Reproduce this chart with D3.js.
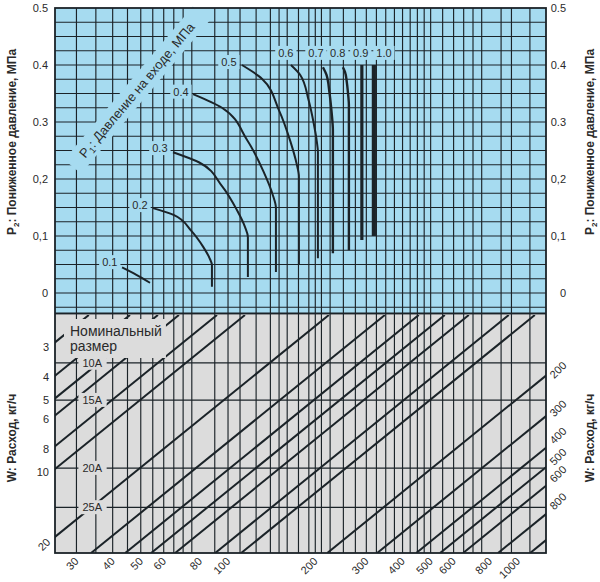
<!DOCTYPE html>
<html>
<head>
<meta charset="utf-8">
<script src="https://cdn.jsdelivr.net/npm/d3@7"></script>
<style>
  body { margin: 0; background: #fff; }
  svg text { font-family: "Liberation Sans", Arial, sans-serif; fill: #2a2a2a; }
</style>
</head>
<body>
<div id="chart"></div>
<script>
// upper panel: outlet pressure P2, MPa
var p2Ticks = [0, 0.1, 0.2, 0.3, 0.4, 0.5];
var p2TickText = ["0", "0,1", "0,2", "0.3", "0.4", "0.5"];
var p2Grid = [-0.025, 0, 0.025, 0.05, 0.075, 0.1, 0.125, 0.15, 0.175, 0.2, 0.225,
              0.25, 0.275, 0.3, 0.325, 0.35, 0.375, 0.4, 0.425, 0.45, 0.475];

// common horizontal (log) axis
var flowGrid = [30, 35, 40, 45, 50, 55, 60, 65, 70, 75, 90, 100, 110, 125, 140, 150, 160,
                175, 190, 200, 210, 225, 250, 275, 300, 325, 350, 375, 400, 425, 450, 475,
                500, 550, 600, 650, 700, 750, 875, 950, 1100];
var flowTicks = [30, 40, 50, 60, 80, 100, 200, 300, 400, 500, 600, 800, 1000];

// inlet pressure curves P1: [flow, P2]
var p1Names = ["0.1", "0.2", "0.3", "0.4", "0.5", "0.6", "0.7", "0.8", "0.9", "1.0"];
var p1Curves = [
  [[43.1, 0.045], [48.3, 0.032], [53.8, 0.018]],
  [[55.1, 0.149], [64.9, 0.137], [74.7, 0.109], [82.1, 0.081], [86.4, 0.061], [88, 0.049], [88, 0.011]],
  [[64.6, 0.247], [79.6, 0.229], [95.2, 0.188], [107.2, 0.146], [114.4, 0.116], [117.1, 0.098], [117.1, 0.028]],
  [[75.7, 0.349], [95.3, 0.325], [116.2, 0.269], [132.6, 0.213], [142.5, 0.173], [146.3, 0.149], [146.3, 0.037]],
  [[111.7, 0.4], [130.9, 0.376], [149.8, 0.321], [164.1, 0.266], [172.4, 0.227], [175.6, 0.204], [175.6, 0.049]],
  [[164.8, 0.4], [177.7, 0.382], [189.5, 0.339], [197.8, 0.296], [202.4, 0.266], [204.2, 0.247], [204.2, 0.061]],
  [[212.5, 0.396], [218.5, 0.383], [223.8, 0.352], [227.3, 0.321], [229.3, 0.299], [230, 0.286], [230, 0.07]],
  [[249, 0.396], [253.2, 0.388], [256.9, 0.37], [259.3, 0.351], [260.7, 0.338], [261.2, 0.33], [261.2, 0.075]],
  [[289.5, 0.4], [289.5, 0.093]],
  [[318.5, 0.4], [318.5, 0.1]]
];
var p1LabelAt = [[39.1, 0.054], [49.7, 0.154], [58.2, 0.254], [68.8, 0.353], [100.7, 0.405],
                 [158.3, 0.421], [201, 0.421], [239, 0.421], [287, 0.421], [345, 0.421]];
var p1Width = [2, 2, 2, 2, 2, 2, 2.4, 2.4, 3.2, 4.2];
var p1TitleAt = [48.5, 0.356];

// lower panel: flow W, kg/h
var wLeftTicks = [3, 4, 5, 6, 8, 10, 20];
var wRightTicks = [200, 300, 400, 500, 600, 800];
var wGrid = [3.5, 5, 9.6, 14];
var sizeNames = ["10A", "15A", "20A", "25A"];
var sizeLabelFlow = 34;
// nominal size lines: flow value where each line meets the top and the bottom of the grey panel
var sizeLineTop = [33.1, 45.9, 57.3, 67.7, 91.6, 114.4, 222.8, 347.6, 455, 559.6, 677, 930,
                   1144, 2264, 3368, 4590, 5553, 6667, 8800, 11347];
var sizeLineBottom = [3.21, 4.46, 5.56, 6.57, 8.89, 11.1, 21.6, 33.7, 44.2, 54.3, 65.7, 90.3,
                      111, 220, 327, 446, 539, 647, 854, 1102];

var svg = d3.select("#chart").append("svg")
  .attr("width", 600)
  .attr("height", 582);

var x = d3.scaleLog().domain([25.3, 1250]).range([55, 546]);
var yP = d3.scaleLinear().domain([-0.035, 0.5]).range([313, 8]);
var yW = d3.scaleLog().domain([2.21, 21.7]).range([315, 553]);
var yWr = d3.scaleLog().domain([112, 1381]).range([315, 553]);

var ink = "#1b2328", blue = "#a6dbf0", grey = "#dcdcdc";
var x0 = x.range()[0], x1 = x.range()[1];

// panels
svg.append("rect")
  .attr("x", x0).attr("y", yP(0.5))
  .attr("width", x1 - x0).attr("height", yP.range()[0] - yP(0.5))
  .attr("fill", blue);
svg.append("rect")
  .attr("x", x0).attr("y", yW.range()[0])
  .attr("width", x1 - x0).attr("height", yW.range()[1] - yW.range()[0])
  .attr("fill", grey);

// vertical grid through both panels
svg.append("g").selectAll("line")
  .data(flowGrid)
  .join("line")
  .attr("x1", d => x(d)).attr("x2", d => x(d))
  .attr("y1", yP(0.5)).attr("y2", yW.range()[1])
  .attr("stroke", ink).attr("stroke-width", 1.15);

svg.append("g").selectAll("line")
  .data(p2Grid)
  .join("line")
  .attr("x1", x0).attr("x2", x1)
  .attr("y1", d => yP(d)).attr("y2", d => yP(d))
  .attr("stroke", ink).attr("stroke-width", 1.15);

svg.append("g").selectAll("line")
  .data(wGrid)
  .join("line")
  .attr("x1", x0).attr("x2", x1)
  .attr("y1", d => yW(d)).attr("y2", d => yW(d))
  .attr("stroke", ink).attr("stroke-width", 1.3);

// nominal size lines, clipped to grey panel
svg.append("clipPath").attr("id", "greyClip")
  .append("rect")
  .attr("x", x0).attr("y", yW.range()[0])
  .attr("width", x1 - x0).attr("height", yW.range()[1] - yW.range()[0]);

var wTop = yW.domain()[0], wBottom = yW.domain()[1];
svg.append("g").attr("clip-path", "url(#greyClip)")
  .selectAll("line")
  .data(sizeLineTop)
  .join("line")
  .attr("x1", d => x(d)).attr("y1", yW(wTop))
  .attr("x2", (d, i) => x(sizeLineBottom[i])).attr("y2", yW(wBottom))
  .attr("stroke", ink).attr("stroke-width", 2);

// helper: text with a background patch that hides the grid
function patchText(g, fill, pad) {
  var b = g.select("text").node().getBBox();
  g.insert("rect", "text")
    .attr("x", b.x - pad).attr("y", b.y - 1)
    .attr("width", b.width + 2 * pad).attr("height", b.height + 2)
    .attr("fill", fill);
}

// P1 title band
var tp = [x(p1TitleAt[0]), yP(p1TitleAt[1])];
var band = svg.append("g").attr("transform", `translate(${tp[0]},${tp[1]}) rotate(-50)`);
band.append("rect")
  .attr("x", -100).attr("y", -11).attr("width", 200).attr("height", 22)
  .attr("fill", blue);
var p1t = band.append("text")
  .attr("text-anchor", "middle")
  .attr("dy", "0.35em")
  .style("font-size", "13px");
p1t.append("tspan").text("P");
p1t.append("tspan").text("1").style("font-size", "9px").attr("dy", 3);
p1t.append("tspan").text(": Давление на входе, МПа").attr("dy", -3);

// P1 curve labels
p1Names.forEach(function(name, i) {
  var g = svg.append("g");
  g.append("text")
    .attr("x", x(p1LabelAt[i][0])).attr("y", yP(p1LabelAt[i][1]))
    .attr("text-anchor", "middle").attr("dy", "0.35em")
    .style("font-size", "11px")
    .text(name);
  patchText(g, blue, 3);
});

// P1 curves
var curveLine = d3.line()
  .x(d => x(d[0]))
  .y(d => yP(d[1]))
  .curve(d3.curveMonotoneY);
svg.append("g").selectAll("path")
  .data(p1Curves)
  .join("path")
  .attr("d", curveLine)
  .attr("fill", "none")
  .attr("stroke", ink)
  .attr("stroke-width", (d, i) => p1Width[i]);

// nominal size labels
sizeNames.forEach(function(name, i) {
  var g = svg.append("g");
  g.append("text")
    .attr("x", x(sizeLabelFlow)).attr("y", yW(wGrid[i]))
    .attr("text-anchor", "middle").attr("dy", "0.35em")
    .style("font-size", "11px")
    .text(name);
  patchText(g, grey, 4);
});

var nom = svg.append("g");
var nomText = nom.append("text").style("font-size", "14px");
nomText.append("tspan").attr("x", 70).attr("y", 336).text("Номинальный");
nomText.append("tspan").attr("x", 70).attr("y", 351).text("размер");
var nb = nomText.node().getBBox();
nom.insert("rect", "text")
  .attr("x", nb.x - 6).attr("y", yW.range()[0] + 4)
  .attr("width", nb.width + 10).attr("height", nb.y + nb.height + 4 - yW.range()[0] - 4)
  .attr("fill", grey);

// frame
svg.append("rect")
  .attr("x", x0).attr("y", yP(0.5))
  .attr("width", x1 - x0).attr("height", yW.range()[1] - yP(0.5))
  .attr("fill", "none").attr("stroke", ink).attr("stroke-width", 1.8);
svg.append("line")
  .attr("x1", x0).attr("x2", x1)
  .attr("y1", yP.range()[0] + 0.5).attr("y2", yP.range()[0] + 0.5)
  .attr("stroke", ink).attr("stroke-width", 2);

// tick labels
var lab = svg.append("g").style("font-size", "11px");
p2Ticks.forEach(function(v, i) {
  lab.append("text").attr("x", 48).attr("y", yP(v)).attr("dy", "0.35em")
    .attr("text-anchor", "end").text(p2TickText[i]);
  lab.append("text").attr("x", 566).attr("y", yP(v)).attr("dy", "0.35em")
    .attr("text-anchor", "end").text(p2TickText[i]);
});

flowTicks.forEach(function(v) {
  lab.append("text")
    .attr("transform", `translate(${x(v) + 3},${yW.range()[1] + 9}) rotate(-45)`)
    .attr("text-anchor", "end")
    .text(v);
});

wLeftTicks.forEach(function(v) {
  if (v < 20) {
    lab.append("text").attr("x", 49).attr("y", yW(v)).attr("dy", "0.35em")
      .attr("text-anchor", "end").text(v);
  } else {
    lab.append("text")
      .attr("transform", `translate(44,${yW(v)}) rotate(-45)`)
      .attr("text-anchor", "middle").attr("dy", "0.35em")
      .text(v);
  }
});

wRightTicks.forEach(function(v) {
  lab.append("text")
    .attr("transform", `translate(558,${yWr(v)}) rotate(-45)`)
    .attr("text-anchor", "middle").attr("dy", "0.35em")
    .text(v);
});

// axis titles
function pTitle(px) {
  var t = svg.append("text")
    .attr("transform", `translate(${px},142) rotate(-90)`)
    .attr("text-anchor", "middle")
    .style("font-size", "12px").style("font-weight", "bold");
  t.append("tspan").text("P");
  t.append("tspan").text("2").style("font-size", "8px").attr("dy", 3);
  t.append("tspan").text(": Пониженное давление, МПа").attr("dy", -3);
}
pTitle(16);
pTitle(594);

[16, 594].forEach(function(px) {
  svg.append("text")
    .attr("transform", `translate(${px},438) rotate(-90)`)
    .attr("text-anchor", "middle")
    .style("font-size", "12px").style("font-weight", "bold")
    .text("W: Расход, кг/ч");
});
</script>
</body>
</html>
